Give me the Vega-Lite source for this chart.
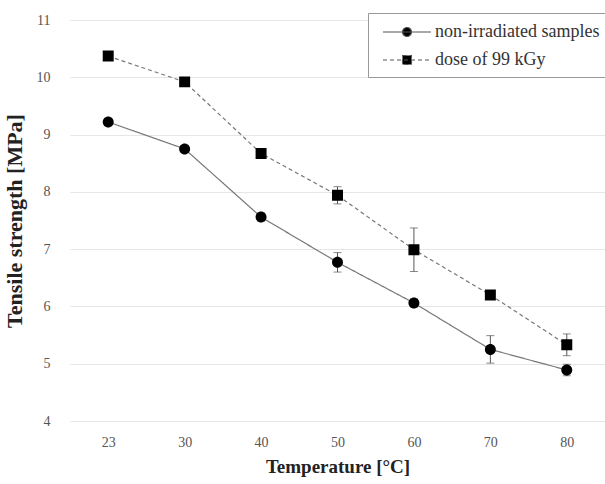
{
  "$schema": "https://vega.github.io/schema/vega-lite/v6.json",
  "autosize": {"type": "none"},
  "width": 535,
  "height": 401,
  "padding": {"left": 70, "top": 20, "right": 0, "bottom": 63},
  "background": "white",
  "config": {
    "view": {"stroke": null},
    "font": "Liberation Serif",
    "axis": {"labelFont": "Liberation Serif", "titleFont": "Liberation Serif", "labelColor": "#555", "titleColor": "#222", "labelFontSize": 14, "titleFontWeight": "bold"},
    "legend": {"labelFont": "Liberation Serif", "labelFontSize": 18, "labelColor": "#333", "labelLimit": 400}
  },
  "data": {"values": [
    {"t": "23", "series": "non-irradiated samples", "v": 9.22, "lo": 9.17, "hi": 9.27},
    {"t": "30", "series": "non-irradiated samples", "v": 8.75, "lo": 8.70, "hi": 8.80},
    {"t": "40", "series": "non-irradiated samples", "v": 7.56, "lo": 7.49, "hi": 7.63},
    {"t": "50", "series": "non-irradiated samples", "v": 6.77, "lo": 6.60, "hi": 6.94},
    {"t": "60", "series": "non-irradiated samples", "v": 6.06, "lo": 5.99, "hi": 6.13},
    {"t": "70", "series": "non-irradiated samples", "v": 5.25, "lo": 5.01, "hi": 5.49},
    {"t": "80", "series": "non-irradiated samples", "v": 4.89, "lo": 4.79, "hi": 4.99},
    {"t": "23", "series": "dose of 99 kGy", "v": 10.37, "lo": 10.32, "hi": 10.42},
    {"t": "30", "series": "dose of 99 kGy", "v": 9.92, "lo": 9.87, "hi": 9.97},
    {"t": "40", "series": "dose of 99 kGy", "v": 8.67, "lo": 8.62, "hi": 8.72},
    {"t": "50", "series": "dose of 99 kGy", "v": 7.94, "lo": 7.79, "hi": 8.09},
    {"t": "60", "series": "dose of 99 kGy", "v": 6.99, "lo": 6.61, "hi": 7.37},
    {"t": "70", "series": "dose of 99 kGy", "v": 6.20, "lo": 6.15, "hi": 6.25},
    {"t": "80", "series": "dose of 99 kGy", "v": 5.33, "lo": 5.14, "hi": 5.52}
  ]},
  "encoding": {
    "x": {"field": "t", "type": "ordinal", "sort": null, "scale": {"type": "point", "padding": 0.5},
      "axis": {"title": "Temperature [°C]", "titleFontSize": 19, "labelAngle": 0, "ticks": false, "domain": false, "labelPadding": 14, "titlePadding": 8}},
    "y": {"field": "v", "type": "quantitative", "scale": {"domain": [4, 11], "nice": false, "zero": false},
      "axis": {"title": "Tensile strength [MPa]", "titleFontSize": 22, "values": [4,5,6,7,8,9,10,11], "ticks": false, "domain": false, "grid": true, "gridColor": "#e6e6e6", "labelPadding": 20, "titlePadding": 10}}
  },
  "layer": [
    {
      "mark": {"type": "rule", "color": "#555", "strokeWidth": 1},
      "encoding": {
        "y": {"field": "lo", "type": "quantitative"},
        "y2": {"field": "hi"}
      }
    },
    {
      "mark": {"type": "tick", "color": "#555", "size": 8, "thickness": 1, "orient": "horizontal"},
      "encoding": {"y": {"field": "lo", "type": "quantitative"}}
    },
    {
      "mark": {"type": "tick", "color": "#555", "size": 8, "thickness": 1, "orient": "horizontal"},
      "encoding": {"y": {"field": "hi", "type": "quantitative"}}
    },
    {
      "mark": {"type": "line", "color": "#777", "strokeWidth": 1.2},
      "encoding": {
        "strokeDash": {"field": "series", "type": "nominal",
          "scale": {"domain": ["non-irradiated samples", "dose of 99 kGy"], "range": [[1, 0], [4, 3]]},
          "legend": {
            "title": null, "orient": "none", "legendX": 298, "legendY": -7,
            "strokeColor": "#999", "fillColor": "white", "padding": 8,
            "labelFont": "Liberation Serif", "labelFontSize": 18, "labelLimit": 400,
            "symbolSize": 400, "rowPadding": 8, "symbolOffset": 20, "labelOffset": 17,
            "symbolFillColor": "black", "symbolStrokeColor": "#555", "symbolStrokeWidth": 1.1,
            "encode": {
              "symbols": {"update": {
                "stroke": {"value": "#555"},
                "strokeWidth": {"value": 1.1},
                "fill": {"value": "black"}
              }},
              "labels": {"update": {"font": {"value": "Liberation Serif"}}}
            }
          }}
      }
    },
    {
      "mark": {"type": "point", "filled": true, "color": "black", "opacity": 1, "strokeWidth": 0},
      "encoding": {
        "shape": {"field": "series", "type": "nominal",
          "scale": {"domain": ["non-irradiated samples", "dose of 99 kGy"], "range": ["M-2.4,0H2.4M-0.45,0A0.45,0.45 0 1,0 0.45,0A0.45,0.45 0 1,0 -0.45,0Z", "M-2.4,0H2.4M-0.45,-0.45H0.45V0.45H-0.45Z"]},
          "legend": {
            "title": null, "orient": "none", "legendX": 298, "legendY": -7,
            "strokeColor": "#999", "fillColor": "white", "padding": 8,
            "labelFont": "Liberation Serif", "labelFontSize": 18, "labelLimit": 400,
            "symbolSize": 400, "rowPadding": 8, "symbolOffset": 20, "labelOffset": 17,
            "symbolFillColor": "black", "symbolStrokeColor": "#555", "symbolStrokeWidth": 1.1,
            "encode": {
              "symbols": {"update": {
                "stroke": {"value": "#555"},
                "strokeWidth": {"value": 1.1},
                "fill": {"value": "black"}
              }},
              "labels": {"update": {"font": {"value": "Liberation Serif"}}}
            }
          }},
        "size": {"value": 596}
      }
    }
  ]
}
